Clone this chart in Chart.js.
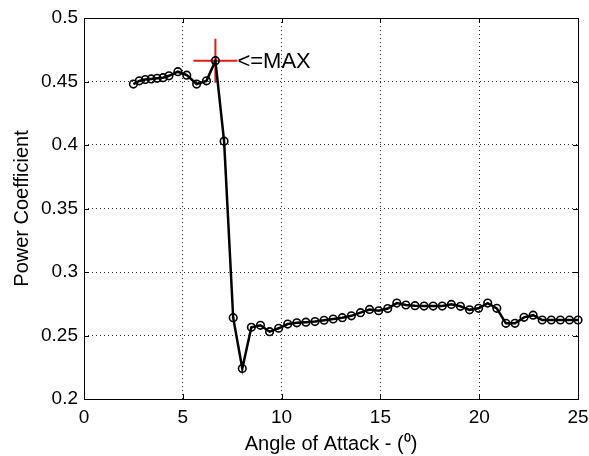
<!DOCTYPE html>
<html>
<head>
<meta charset="utf-8">
<script src="https://cdn.jsdelivr.net/npm/chart.js@4"></script>
<style>
  html, body { margin: 0; padding: 0; background: #fff; }
  #wrap { width: 589px; height: 456px; }
</style>
</head>
<body>
<div id="wrap"><canvas id="chartCp" width="589" height="456"></canvas></div>
<script>
'use strict';

// angle of attack (deg) and power coefficient
var angles = [2.5, 2.8, 3.1, 3.4, 3.7, 4.0, 4.3, 4.75, 5.2, 5.7, 6.2, 6.65,
    7.09, 7.55, 8.01, 8.47, 8.93, 9.39, 9.85, 10.31, 10.77, 11.23, 11.69, 12.15,
    12.61, 13.07, 13.53, 13.99, 14.45, 14.91, 15.37, 15.83, 16.29, 16.75, 17.21,
    17.67, 18.13, 18.59, 19.05, 19.51, 19.97, 20.43, 20.89, 21.35, 21.81, 22.27,
    22.73, 23.19, 23.65, 24.11, 24.57, 25.0];
var powerCoef = [0.448, 0.4505, 0.4515, 0.452, 0.4525, 0.453, 0.4545, 0.4577, 0.455, 0.448, 0.4505, 0.4664,
    0.403, 0.264, 0.224, 0.2565, 0.258, 0.253, 0.2557, 0.259, 0.260, 0.2605, 0.261, 0.262,
    0.263, 0.264, 0.2655, 0.268, 0.2705, 0.2695, 0.2712, 0.2755, 0.274, 0.2735, 0.2732,
    0.2732, 0.2732, 0.2745, 0.273, 0.2702, 0.2714, 0.2755, 0.2714, 0.2596, 0.2596, 0.2643,
    0.266, 0.2622, 0.2622, 0.2622, 0.2622, 0.2622];
var maxAngle = [6.65];
var maxCoef = [0.4664];
var maxLabel = '<=MAX';
var xTickLabels = ['0', '5', '10', '15', '20', '25'];
var yTickLabels = ['0.2', '0.25', '0.3', '0.35', '0.4', '0.45', '0.5'];

var FONT = 'Arial, "Liberation Sans", Helvetica, sans-serif';

function toPoints(xs, ys) {
    return xs.map(function (x, i) { return { x: x, y: ys[i] }; });
}

// MATLAB style box with inward ticks + the MAX annotation
var matlabBox = {
    id: 'matlabBox',
    afterDatasetsDraw: function (chart) {
        var ctx = chart.ctx, a = chart.chartArea;
        var xs = chart.scales.x, ys = chart.scales.y;
        var tl = 5;
        ctx.save();
        ctx.strokeStyle = '#000';
        ctx.lineWidth = 1;
        ctx.beginPath();
        xs.ticks.forEach(function (t) {
            var px = Math.round(xs.getPixelForValue(t.value)) + 0.5;
            ctx.moveTo(px, a.bottom); ctx.lineTo(px, a.bottom - tl);
            ctx.moveTo(px, a.top); ctx.lineTo(px, a.top + tl);
        });
        ys.ticks.forEach(function (t) {
            var py = Math.round(ys.getPixelForValue(t.value)) + 0.5;
            ctx.moveTo(a.left, py); ctx.lineTo(a.left + tl, py);
            ctx.moveTo(a.right, py); ctx.lineTo(a.right - tl, py);
        });
        ctx.stroke();
        ctx.strokeRect(Math.round(a.left) + 0.5, Math.round(a.top) + 0.5,
            Math.round(a.right - a.left), Math.round(a.bottom - a.top));

        var mx = xs.getPixelForValue(maxAngle[0]);
        var my = ys.getPixelForValue(maxCoef[0]);
        ctx.fillStyle = '#000';
        ctx.font = '22px ' + FONT;
        ctx.textAlign = 'left';
        ctx.textBaseline = 'middle';
        ctx.fillText(maxLabel, mx + 22, my + 1);
        ctx.restore();
    }
};

var CHARTCP = document.getElementById('chartCp');

var cpChart = new Chart(CHARTCP, {
    type: 'scatter',
    data: {
        datasets: [
            {
                label: 'Cp',
                data: toPoints(angles, powerCoef),
                showLine: true,
                borderColor: '#000',
                borderWidth: 2.5,
                pointStyle: 'circle',
                pointRadius: 3.8,
                pointBorderWidth: 1.6,
                pointBorderColor: '#000',
                pointBackgroundColor: 'rgba(0,0,0,0)',
                clip: false,
                order: 0
            },
            {
                label: 'max',
                data: toPoints(maxAngle, maxCoef),
                showLine: false,
                pointStyle: 'cross',
                pointRadius: 22,
                pointBorderWidth: 2,
                pointBorderColor: '#e01b1b',
                pointBackgroundColor: '#e01b1b',
                clip: false,
                order: 1
            }
        ]
    },
    plugins: [matlabBox],
    options: {
        responsive: false,
        animation: false,
        layout: { autoPadding: false, padding: { top: 18, right: 11, left: 0, bottom: 0 } },
        plugins: {
            legend: { display: false },
            tooltip: { enabled: false }
        },
        scales: {
            x: {
                type: 'linear',
                min: 0,
                max: 25,
                afterFit: function (s) {
                    s.height = 57;
                    s.paddingLeft = 0;
                    s.paddingRight = 0;
                },
                ticks: {
                    stepSize: 5,
                    color: '#000',
                    padding: 7,
                    font: { family: FONT, size: 19 },
                    callback: function (v) { return xTickLabels[Math.round(v / 5)]; }
                },
                grid: {
                    color: '#333',
                    lineWidth: 1,
                    drawTicks: false
                },
                border: { display: false, dash: [1, 3] },
                title: {
                    display: true,
                    text: 'Angle of Attack - (\u2070)',
                    color: '#000',
                    font: { family: FONT, size: 20 },
                    padding: { top: 2, bottom: 0 }
                }
            },
            y: {
                type: 'linear',
                min: 0.2,
                max: 0.5,
                afterFit: function (s) {
                    s.width = 84;
                    s.paddingTop = 0;
                    s.paddingBottom = 0;
                },
                ticks: {
                    stepSize: 0.05,
                    color: '#000',
                    padding: 6,
                    font: { family: FONT, size: 19 },
                    callback: function (v) { return yTickLabels[Math.round((v - 0.2) / 0.05)]; }
                },
                grid: {
                    color: '#333',
                    lineWidth: 1,
                    drawTicks: false
                },
                border: { display: false, dash: [1, 3] },
                title: {
                    display: true,
                    text: 'Power Coefficient',
                    color: '#000',
                    font: { family: FONT, size: 20 },
                    padding: { top: 10, bottom: 4 }
                }
            }
        }
    }
});
</script>
</body>
</html>
